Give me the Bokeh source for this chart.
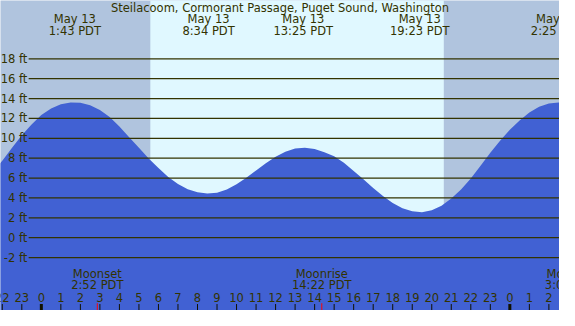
from bokeh.plotting import figure
from bokeh.models import Range1d
from bokeh.core.properties import value
from bokeh.embed import file_html
from bokeh.resources import INLINE

# ---------------- data ----------------
title_text = "Steilacoom, Cormorant Passage, Puget Sound, Washington"

# predicted tide height (ft), read every half hour; hours from May 13 00:00 PDT
tide_hours = [-2.5, -2.0, -1.5, -1.0, -0.5, 0.0, 0.5, 1.0, 1.5, 2.0, 2.5, 3.0,
              3.5, 4.0, 4.5, 5.0, 5.5, 6.0, 6.5, 7.0, 7.5, 8.0, 8.5, 9.0,
              9.5, 10.0, 10.5, 11.0, 11.5, 12.0, 12.5, 13.0, 13.5, 14.0, 14.5, 15.0,
              15.5, 16.0, 16.5, 17.0, 17.5, 18.0, 18.5, 19.0, 19.5, 20.0, 20.5, 21.0,
              21.5, 22.0, 22.5, 23.0, 23.5, 24.0, 24.5, 25.0, 25.5, 26.0, 26.5, 27.0]
tide_ft = [6.5, 7.75, 9.05, 10.3, 11.4, 12.35, 13.0, 13.42, 13.61, 13.59, 13.34, 12.86,
           12.15, 11.2, 10.1, 9.05, 7.98, 7.0, 6.1, 5.4, 4.88, 4.57, 4.45, 4.53,
           4.86, 5.37, 6.03, 6.76, 7.49, 8.15, 8.66, 8.97, 9.05, 8.92, 8.6, 8.2,
           7.55, 6.72, 5.87, 5.0, 4.2, 3.5, 2.97, 2.66, 2.56, 2.76, 3.22, 3.93,
           4.85, 5.95, 7.25, 8.55, 9.75, 10.85, 11.8, 12.6, 13.18, 13.51, 13.6, 13.42]

# high / low tide events
extreme_day = [0, 0, 0, 0, 1]
extreme_clock = ["1:43", "8:34", "13:25", "19:23", "2:25"]
extreme_date = ["May 13", "May 13", "May 13", "May 13", "May 14"]

# sun
sunrise_clock = "5:35"
sunset_clock = "20:37"

# moon events
moon_day = [0, 0, 1]
moon_clock = ["2:52", "14:22", "3:08"]
moon_event = ["Moonset", "Moonrise", "Moonset"]

# height levels
level_ft = [-2, 0, 2, 4, 6, 8, 10, 12, 14, 16, 18]
level_labels = ["-2 ft", "0 ft", "2 ft", "4 ft", "6 ft", "8 ft", "10 ft",
                "12 ft", "14 ft", "16 ft", "18 ft"]

# hour ticks along the bottom
hour_ticks = [-2, -1, 0, 1, 2, 3, 4, 5, 6, 7, 8, 9, 10, 11, 12, 13, 14, 15,
              16, 17, 18, 19, 20, 21, 22, 23, 24, 25, 26]
hour_labels = ["22", "23", "0", "1", "2", "3", "4", "5", "6", "7", "8", "9",
               "10", "11", "12", "13", "14", "15", "16", "17", "18", "19", "20",
               "21", "22", "23", "0", "1", "2"]


def to_hours(clock, day=0):
    h, m = clock.split(":")
    return day * 24 + int(h) + int(m) / 60.0


extreme_hours = [to_hours(c, d) for c, d in zip(extreme_clock, extreme_day)]
moon_hours = [to_hours(c, d) for c, d in zip(moon_clock, moon_day)]
sunrise_h = to_hours(sunrise_clock)
sunset_h = to_hours(sunset_clock)

# ---------------- style ----------------
NIGHT = "#B0C4DE"
DAY = "#E0F8FF"
WATER = "#4161D3"
INK = "#333300"
FONT = value("DejaVu Sans")
FS = value("11.5px")

X0, X1 = -2.092, 26.544
Y0, Y1 = -7.33, 23.87

p = figure(width=559, height=310, output_backend="svg", toolbar_location=None,
           x_range=Range1d(X0, X1), y_range=Range1d(Y0, Y1),
           x_axis_location=None, y_axis_location=None, min_border=0)
p.grid.visible = False
p.outline_line_color = None
p.background_fill_color = NIGHT
p.border_fill_color = NIGHT

# daylight band
p.quad(left=[sunrise_h], right=[sunset_h], bottom=[Y0 - 5], top=[Y1 + 5],
       fill_color=DAY, line_color=None)

# tide area
p.varea(x=tide_hours, y1=Y0 - 20, y2=tide_ft, fill_color=WATER)

# level lines
n = len(level_ft)
p.segment(x0=[-0.65] * n, y0=level_ft, x1=[X1 + 1] * n, y1=level_ft,
          line_color=INK, line_width=1.3)
p.text(x=[-0.72] * n, y=level_ft, text=level_labels, text_align="right",
       text_baseline="middle", text_color=INK, text_font=FONT, text_font_size=FS)

# title
p.text(x=[(X0 + X1) / 2], y=[23.15], text=[title_text], text_align="center",
       text_baseline="middle", text_color=INK, text_font=FONT, text_font_size=FS)

# tide event labels
ne = len(extreme_hours)
p.text(x=extreme_hours, y=[22.0] * ne, text=extreme_date, text_align="center",
       text_baseline="middle", text_color=INK, text_font=FONT, text_font_size=FS)
p.text(x=extreme_hours, y=[20.83] * ne, text=[c + " PDT" for c in extreme_clock],
       text_align="center", text_baseline="middle", text_color=INK,
       text_font=FONT, text_font_size=FS)

# moon labels
nm = len(moon_hours)
p.text(x=moon_hours, y=[-3.66] * nm, text=moon_event, text_align="center",
       text_baseline="middle", text_color=INK, text_font=FONT, text_font_size=FS)
p.text(x=moon_hours, y=[-4.79] * nm, text=[c + " PDT" for c in moon_clock],
       text_align="center", text_baseline="middle", text_color=INK,
       text_font=FONT, text_font_size=FS)

# hour labels and ticks
nh = len(hour_ticks)
p.text(x=hour_ticks, y=[-5.99] * nh, text=hour_labels, text_align="center",
       text_baseline="middle", text_color=INK, text_font=FONT, text_font_size=FS)
tick_w = [3 if lab == "0" else 1 for lab in hour_labels]
p.segment(x0=hour_ticks, y0=[-6.68] * nh, x1=hour_ticks, y1=[Y0 - 1] * nh,
          line_color="#111100", line_width=tick_w)
p.segment(x0=moon_hours, y0=[-6.6] * nm, x1=moon_hours, y1=[Y0 - 1] * nm,
          line_color="red", line_width=1)

open("out.html", "w").write(file_html(p, INLINE))
